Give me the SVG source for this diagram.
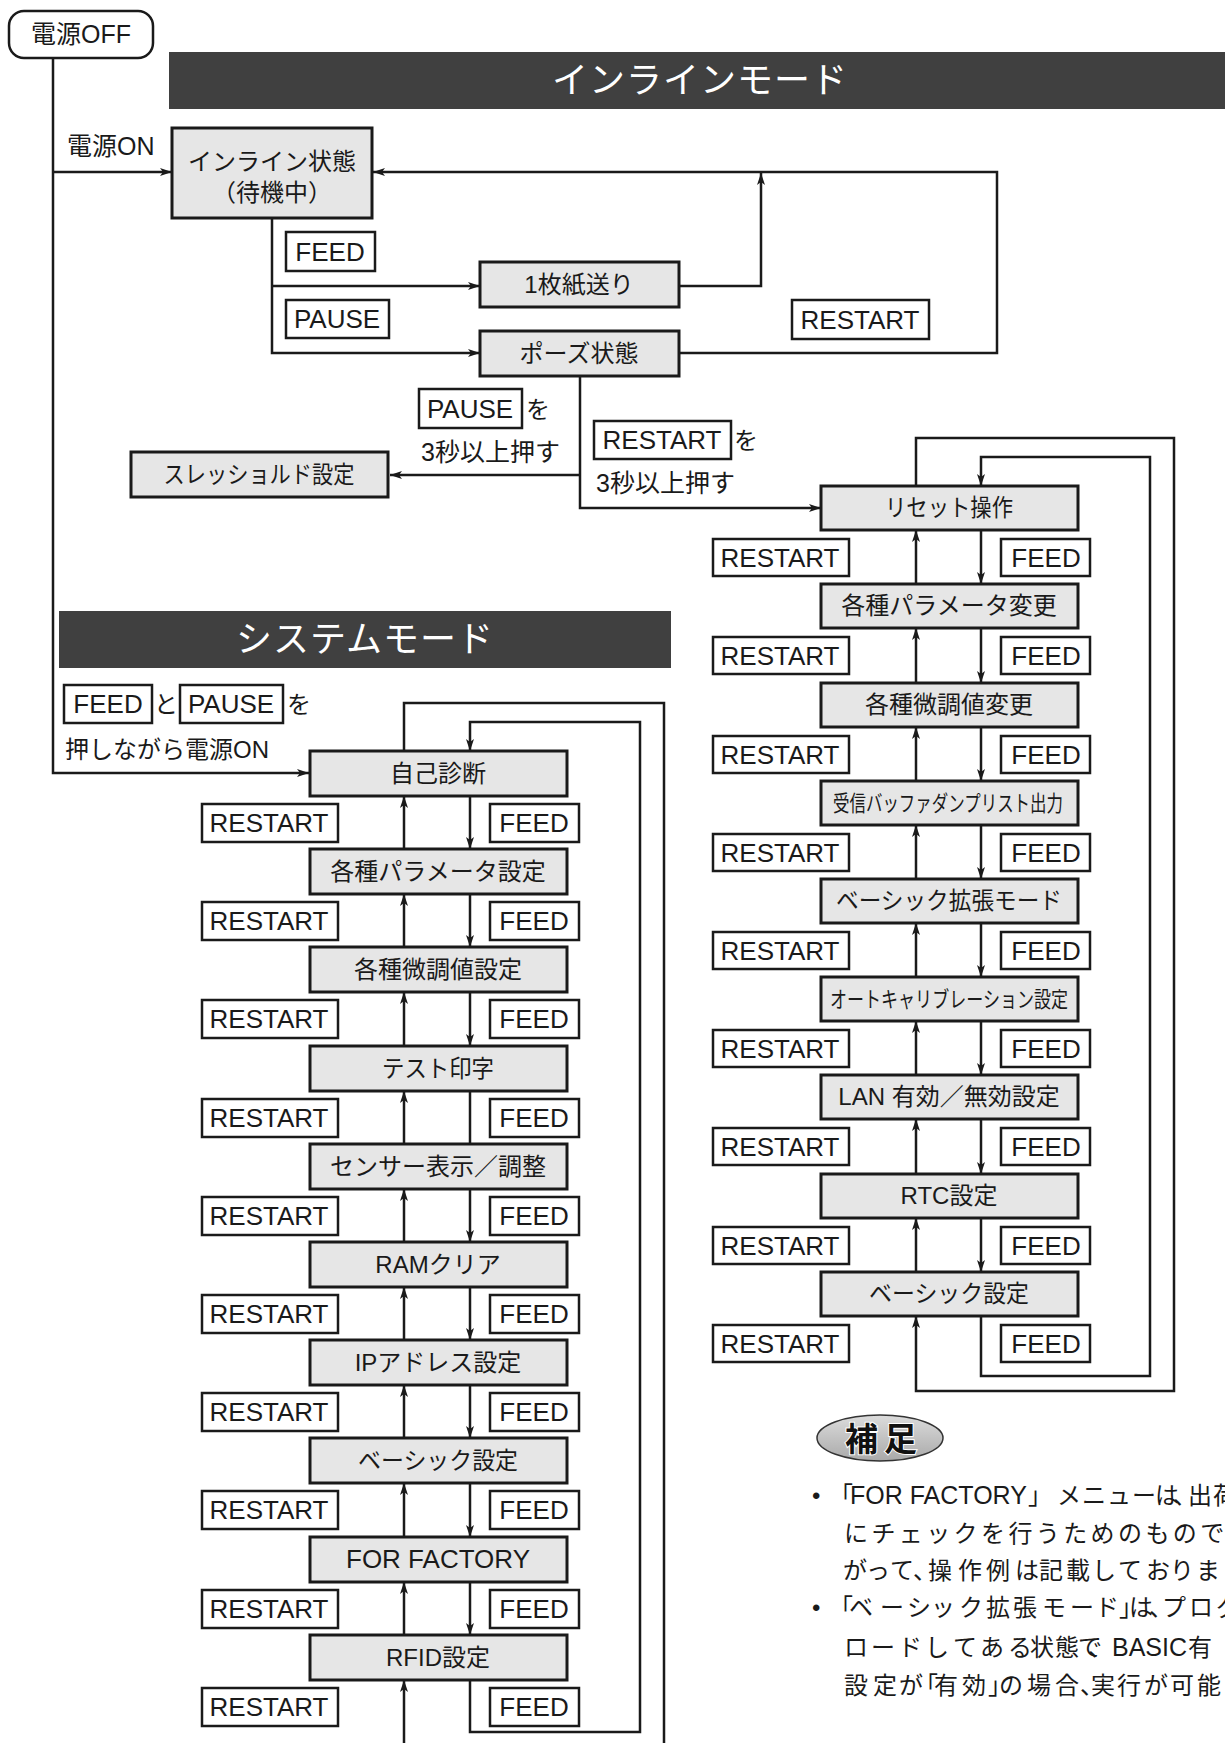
<svg xmlns="http://www.w3.org/2000/svg" width="1225" height="1743" viewBox="0 0 1225 1743">
<defs>
<style>
.node rect{fill:#e6e6e6;stroke:#1a1a1a;stroke-width:3}
.lbl rect{fill:#fff;stroke:#1a1a1a;stroke-width:2.5}
.t{font-family:"Liberation Sans","Noto Sans CJK JP",sans-serif;font-size:24px;fill:#1a1a1a;text-anchor:middle}
.l{font-family:"Liberation Sans","Noto Sans CJK JP",sans-serif;font-size:26px;fill:#1a1a1a;text-anchor:middle}
.s{font-family:"Liberation Sans","Noto Sans CJK JP",sans-serif;font-size:24px;fill:#1a1a1a}
.n{font-family:"Liberation Sans","Noto Sans CJK JP",sans-serif;font-size:24px;fill:#1a1a1a}
.bn{font-family:"Noto Sans CJK JP",sans-serif;font-size:36px;fill:#fff;text-anchor:middle;letter-spacing:1px}
.conn path{fill:none;stroke:#1a1a1a;stroke-width:2.5}
.conn path.a{marker-end:url(#ah)}
</style>
<marker id="ah" markerUnits="userSpaceOnUse" markerWidth="13" markerHeight="9" refX="12" refY="4.5" orient="auto">
<path d="M0,0.5 L12,4.5 L0,8.5 L3,4.5 Z" fill="#1a1a1a"/>
</marker>
<linearGradient id="eg" x1="0" y1="0" x2="0" y2="1">
<stop offset="0" stop-color="#dcdcdc"/>
<stop offset="1" stop-color="#a9a9a9"/>
</linearGradient>
</defs>

<!-- banners -->
<g id="banner-inline">
<rect x="169" y="52" width="1056" height="57" fill="#404040"/>
<text class="bn" x="700" y="93">インラインモード</text>
</g>
<g id="banner-system">
<rect x="59" y="611" width="612" height="57" fill="#404040"/>
<text class="bn" x="365" y="652">システムモード</text>
</g>

<!-- connectors -->
<g class="conn" id="connectors">
<path d="M53,58 V773 H309" class="a"/>
<path d="M53,172 H172" class="a"/>
<path d="M272,218 V353 H480" class="a"/>
<path d="M272,286 H480" class="a"/>
<path d="M679,286 H761 V173" class="a"/>
<path d="M679,353 H997 V172 H373" class="a"/>
<path d="M580,376 V508 H821" class="a"/>
<path d="M580,475 H390" class="a"/>

<!-- system mode column -->
<path d="M404,849 V796" class="a"/><path d="M470,796 V849" class="a"/>
<path d="M404,947 V894" class="a"/><path d="M470,894 V947" class="a"/>
<path d="M404,1046 V992" class="a"/><path d="M470,992 V1046" class="a"/>
<path d="M404,1144 V1091" class="a"/><path d="M470,1091 V1144"/>
<path d="M404,1242 V1189" class="a"/><path d="M470,1189 V1242" class="a"/>
<path d="M404,1340 V1287" class="a"/><path d="M470,1287 V1340" class="a"/>
<path d="M404,1438 V1385" class="a"/><path d="M470,1385 V1438" class="a"/>
<path d="M404,1537 V1483" class="a"/><path d="M470,1483 V1537" class="a"/>
<path d="M404,1635 V1582" class="a"/><path d="M470,1582 V1635" class="a"/>
<path d="M404,1745 V1680" class="a"/>
<path d="M404,751 V703 H664 V1745"/>
<path d="M470,1680 V1732 H640 V722 H470 V751" class="a"/>

<!-- inline reset column -->
<path d="M916,584 V530" class="a"/><path d="M981,530 V584" class="a"/>
<path d="M916,683 V628" class="a"/><path d="M981,628 V683" class="a"/>
<path d="M916,781 V727" class="a"/><path d="M981,727 V781" class="a"/>
<path d="M916,879 V825" class="a"/><path d="M981,825 V879" class="a"/>
<path d="M916,977 V923" class="a"/><path d="M981,923 V977" class="a"/>
<path d="M916,1075 V1021" class="a"/><path d="M981,1021 V1075" class="a"/>
<path d="M916,1174 V1119" class="a"/><path d="M981,1119 V1174" class="a"/>
<path d="M916,1272 V1218" class="a"/><path d="M981,1218 V1272" class="a"/>
<path d="M916,486 V438 H1174 V1391 H916 V1316" class="a"/>
<path d="M981,1316 V1376 H1150 V457 H981 V486" class="a"/>
</g>

<!-- top nodes -->
<g id="power-off">
<rect x="9" y="11" width="144" height="47" rx="15" fill="#fff" stroke="#1a1a1a" stroke-width="2.5"/>
<text class="t" x="81" y="43" style="font-size:25px">電源OFF</text>
</g>
<g id="label-power-on"><text class="s" x="67" y="155" style="font-size:25px">電源ON</text></g>
<g id="inline-state" class="node">
<rect x="172" y="128" width="200" height="90"/>
<text class="t" x="272" y="170">インライン状態</text>
<text class="t" x="272" y="201">（待機中）</text>
</g>
<g id="feed-one" class="node">
<rect x="480" y="262" width="199" height="45"/>
<text class="t" x="579" y="293">1枚紙送り</text>
</g>
<g id="pause-state" class="node">
<rect x="480" y="331" width="199" height="45"/>
<text class="t" x="579" y="362">ポーズ状態</text>
</g>
<g id="threshold" class="node">
<rect x="131" y="452" width="257" height="45"/>
<text class="t" x="259" y="483" textLength="191" lengthAdjust="spacingAndGlyphs">スレッショルド設定</text>
</g>

<!-- top labels -->
<g id="lbl-feed-top" class="lbl"><rect x="286" y="232" width="89" height="39"/><text class="l" x="330" y="261">FEED</text></g>
<g id="lbl-pause-top" class="lbl"><rect x="286" y="300" width="103" height="38"/><text class="l" x="337" y="328">PAUSE</text></g>
<g id="lbl-restart-top" class="lbl"><rect x="792" y="300" width="137" height="39"/><text class="l" x="860" y="329">RESTART</text></g>
<g id="lbl-pause-3s" class="lbl">
<rect x="419" y="389" width="103" height="39"/><text class="l" x="470" y="418">PAUSE</text>
<text class="s" x="526" y="418">を</text>
<text class="s" x="421" y="461" style="font-size:25px">3秒以上押す</text>
</g>
<g id="lbl-restart-3s" class="lbl">
<rect x="594" y="421" width="137" height="38"/><text class="l" x="662" y="449">RESTART</text>
<text class="s" x="734" y="449">を</text>
<text class="s" x="596" y="492" style="font-size:25px">3秒以上押す</text>
</g>
<g id="lbl-system-entry" class="lbl">
<rect x="64" y="685" width="88" height="38"/><text class="l" x="108" y="713">FEED</text>
<text class="s" x="154" y="713">と</text>
<rect x="180" y="685" width="103" height="38"/><text class="l" x="231" y="713">PAUSE</text>
<text class="s" x="287" y="713">を</text>
<text class="s" x="65" y="758">押しながら電源ON</text>
</g>

<!-- system mode nodes -->
<g id="sys-1" class="node"><rect x="310" y="751" width="257" height="45"/><text class="t" x="438" y="782">自己診断</text></g>
<g id="sys-2" class="node"><rect x="310" y="849" width="257" height="45"/><text class="t" x="438" y="880">各種パラメータ設定</text></g>
<g id="sys-3" class="node"><rect x="310" y="947" width="257" height="45"/><text class="t" x="438" y="978">各種微調値設定</text></g>
<g id="sys-4" class="node"><rect x="310" y="1046" width="257" height="45"/><text class="t" x="438" y="1077" textLength="112" lengthAdjust="spacingAndGlyphs">テスト印字</text></g>
<g id="sys-5" class="node"><rect x="310" y="1144" width="257" height="45"/><text class="t" x="438" y="1175">センサー表示／調整</text></g>
<g id="sys-6" class="node"><rect x="310" y="1242" width="257" height="45"/><text class="t" x="438" y="1273">RAMクリア</text></g>
<g id="sys-7" class="node"><rect x="310" y="1340" width="257" height="45"/><text class="t" x="438" y="1371">IPアドレス設定</text></g>
<g id="sys-8" class="node"><rect x="310" y="1438" width="257" height="45"/><text class="t" x="438" y="1469" textLength="160" lengthAdjust="spacingAndGlyphs">ベーシック設定</text></g>
<g id="sys-9" class="node"><rect x="310" y="1537" width="257" height="45"/><text class="t" x="438" y="1568" style="font-size:26px">FOR FACTORY</text></g>
<g id="sys-10" class="node"><rect x="310" y="1635" width="257" height="45"/><text class="t" x="438" y="1666">RFID設定</text></g>

<!-- system mode labels -->
<g id="sys-labels" class="lbl">
<rect x="202" y="804" width="136" height="38"/><text class="l" x="269" y="832">RESTART</text>
<rect x="490" y="804" width="89" height="38"/><text class="l" x="534" y="832">FEED</text>
<rect x="202" y="902" width="136" height="38"/><text class="l" x="269" y="930">RESTART</text>
<rect x="490" y="902" width="89" height="38"/><text class="l" x="534" y="930">FEED</text>
<rect x="202" y="1000" width="136" height="38"/><text class="l" x="269" y="1028">RESTART</text>
<rect x="490" y="1000" width="89" height="38"/><text class="l" x="534" y="1028">FEED</text>
<rect x="202" y="1099" width="136" height="38"/><text class="l" x="269" y="1127">RESTART</text>
<rect x="490" y="1099" width="89" height="38"/><text class="l" x="534" y="1127">FEED</text>
<rect x="202" y="1197" width="136" height="38"/><text class="l" x="269" y="1225">RESTART</text>
<rect x="490" y="1197" width="89" height="38"/><text class="l" x="534" y="1225">FEED</text>
<rect x="202" y="1295" width="136" height="38"/><text class="l" x="269" y="1323">RESTART</text>
<rect x="490" y="1295" width="89" height="38"/><text class="l" x="534" y="1323">FEED</text>
<rect x="202" y="1393" width="136" height="38"/><text class="l" x="269" y="1421">RESTART</text>
<rect x="490" y="1393" width="89" height="38"/><text class="l" x="534" y="1421">FEED</text>
<rect x="202" y="1491" width="136" height="38"/><text class="l" x="269" y="1519">RESTART</text>
<rect x="490" y="1491" width="89" height="38"/><text class="l" x="534" y="1519">FEED</text>
<rect x="202" y="1590" width="136" height="38"/><text class="l" x="269" y="1618">RESTART</text>
<rect x="490" y="1590" width="89" height="38"/><text class="l" x="534" y="1618">FEED</text>
<rect x="202" y="1688" width="136" height="38"/><text class="l" x="269" y="1716">RESTART</text>
<rect x="490" y="1688" width="89" height="38"/><text class="l" x="534" y="1716">FEED</text>
</g>

<!-- inline reset nodes -->
<g id="rst-1" class="node"><rect x="821" y="486" width="257" height="44"/><text class="t" x="949" y="516" textLength="128" lengthAdjust="spacingAndGlyphs">リセット操作</text></g>
<g id="rst-2" class="node"><rect x="821" y="584" width="257" height="44"/><text class="t" x="949" y="614">各種パラメータ変更</text></g>
<g id="rst-3" class="node"><rect x="821" y="683" width="257" height="44"/><text class="t" x="949" y="713">各種微調値変更</text></g>
<g id="rst-4" class="node"><rect x="821" y="781" width="257" height="44"/><text class="t" x="948" y="811" style="font-size:22px" textLength="230" lengthAdjust="spacingAndGlyphs">受信バッファダンプリスト出力</text></g>
<g id="rst-5" class="node"><rect x="821" y="879" width="257" height="44"/><text class="t" x="949" y="909" textLength="226" lengthAdjust="spacingAndGlyphs">ベーシック拡張モード</text></g>
<g id="rst-6" class="node"><rect x="821" y="977" width="257" height="44"/><text class="t" x="949" y="1007" style="font-size:22px" textLength="238" lengthAdjust="spacingAndGlyphs">オートキャリブレーション設定</text></g>
<g id="rst-7" class="node"><rect x="821" y="1075" width="257" height="44"/><text class="t" x="949" y="1105">LAN 有効／無効設定</text></g>
<g id="rst-8" class="node"><rect x="821" y="1174" width="257" height="44"/><text class="t" x="949" y="1204">RTC設定</text></g>
<g id="rst-9" class="node"><rect x="821" y="1272" width="257" height="44"/><text class="t" x="949" y="1302" textLength="160" lengthAdjust="spacingAndGlyphs">ベーシック設定</text></g>

<!-- inline reset labels -->
<g id="rst-labels" class="lbl">
<rect x="713" y="539" width="136" height="37"/><text class="l" x="780" y="567">RESTART</text>
<rect x="1001" y="539" width="89" height="37"/><text class="l" x="1046" y="567">FEED</text>
<rect x="713" y="637" width="136" height="37"/><text class="l" x="780" y="665">RESTART</text>
<rect x="1001" y="637" width="89" height="37"/><text class="l" x="1046" y="665">FEED</text>
<rect x="713" y="736" width="136" height="37"/><text class="l" x="780" y="764">RESTART</text>
<rect x="1001" y="736" width="89" height="37"/><text class="l" x="1046" y="764">FEED</text>
<rect x="713" y="834" width="136" height="37"/><text class="l" x="780" y="862">RESTART</text>
<rect x="1001" y="834" width="89" height="37"/><text class="l" x="1046" y="862">FEED</text>
<rect x="713" y="932" width="136" height="37"/><text class="l" x="780" y="960">RESTART</text>
<rect x="1001" y="932" width="89" height="37"/><text class="l" x="1046" y="960">FEED</text>
<rect x="713" y="1030" width="136" height="37"/><text class="l" x="780" y="1058">RESTART</text>
<rect x="1001" y="1030" width="89" height="37"/><text class="l" x="1046" y="1058">FEED</text>
<rect x="713" y="1128" width="136" height="37"/><text class="l" x="780" y="1156">RESTART</text>
<rect x="1001" y="1128" width="89" height="37"/><text class="l" x="1046" y="1156">FEED</text>
<rect x="713" y="1227" width="136" height="37"/><text class="l" x="780" y="1255">RESTART</text>
<rect x="1001" y="1227" width="89" height="37"/><text class="l" x="1046" y="1255">FEED</text>
<rect x="713" y="1325" width="136" height="37"/><text class="l" x="780" y="1353">RESTART</text>
<rect x="1001" y="1325" width="89" height="37"/><text class="l" x="1046" y="1353">FEED</text>
</g>

<!-- notes -->
<g id="note">
<ellipse cx="880" cy="1438" rx="63" ry="23" fill="url(#eg)" stroke="#333" stroke-width="1.5"/>
<text x="845 884" y="1451" style="font-family:'Noto Sans CJK JP',sans-serif;font-size:33px;font-weight:bold;fill:#111;stroke:#fff;stroke-width:2;paint-order:stroke">補足</text>
<g class="n">
<text x="812" y="1504">•</text>
<text y="1504"><tspan x="829">「</tspan><tspan x="850" style="font-size:25px">FOR FACTORY</tspan><tspan x="1028 1057 1082 1107 1132 1155 1173 1188 1213">」メニューは、出荷</tspan></text>
<text x="844 871.4 898.8 926.2 953.6 981 1008.4 1035.8 1063.2 1090.6 1118 1145.4 1172.8 1200.2" y="1542">にチェックを行うためのもので</text>
<text x="843 866 890 913 928 958 986 1015 1039 1066 1092 1118 1146 1170 1196" y="1579">がって、操作例は記載しておりま</text>
<text x="812" y="1616">•</text>
<text x="829 849 880 907 931 959 986 1013 1042 1070 1095 1119 1129 1149 1162 1189 1216" y="1616">「ベーシック拡張モード」は、プログ</text>
<text y="1656"><tspan x="844 871 898 925 953 980 1008 1030 1055 1078 1088">ロードしてある状態で、</tspan><tspan x="1112" style="font-size:25px">BASIC</tspan><tspan x="1188">有</tspan></text>
<text x="844 873 899 914 934 962 988 999 1027 1055 1080 1091 1117 1144 1170 1197" y="1694">設定が「有効」の場合、実行が可能</text>
</g>
</g>
</svg>
